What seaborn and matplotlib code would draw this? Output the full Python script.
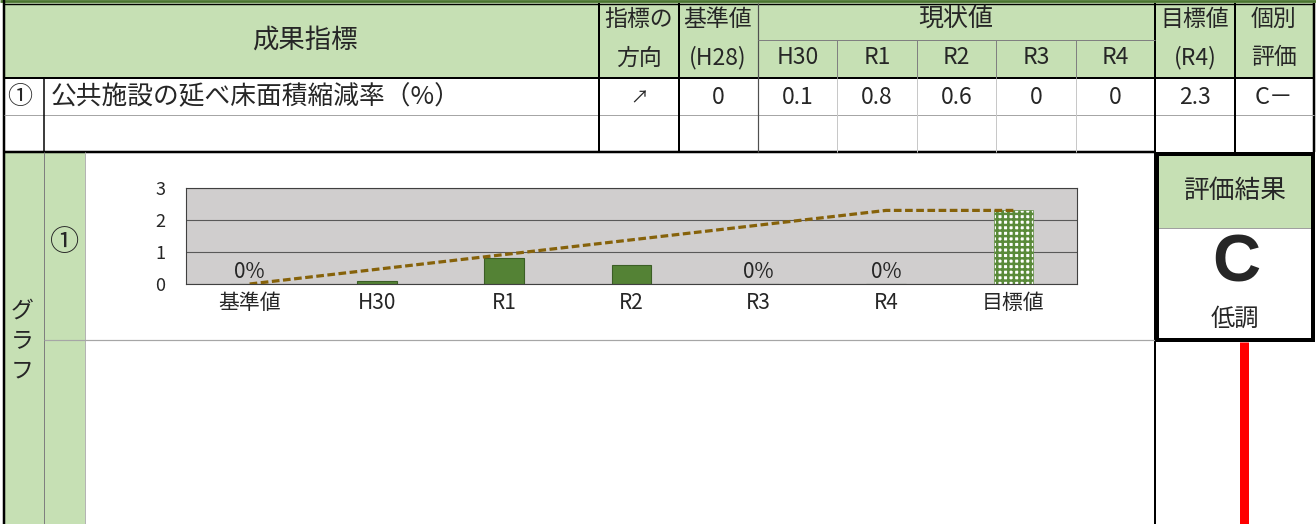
import numpy as np
import pandas as pd
import matplotlib
matplotlib.use("Agg")
import matplotlib.pyplot as plt
from matplotlib.patches import Rectangle
import seaborn as sns

# ---- data -------------------------------------------------------------
categories = ["基準値", "H30", "R1", "R2", "R3", "R4", "目標値"]
results = [0, 0.1, 0.8, 0.6, 0, 0, 2.3]          # base, yearly actuals, target
target_path = [0, 0.46, 0.92, 1.38, 1.84, 2.3, 2.3]  # planned trajectory
year_labels = ["H30", "R1", "R2", "R3", "R4"]
indicator_name = "公共施設の延べ床面積縮減率（%）"
direction = "↗"
grade_item = "C－"
grade_total = "C"
grade_text = "低調"

# ---- style ------------------------------------------------------------
sns.set_theme(style="white")
plt.rcParams["font.family"] = ["Noto Sans CJK JP", "DejaVu Sans"]
plt.rcParams["hatch.linewidth"] = 1.8

W, H = 1316, 524
GREEN = "#c6e0b4"
BLACK = "#000000"

fig = plt.figure(figsize=(W / 100, H / 100), dpi=100)
bg = fig.add_axes([0, 0, 1, 1])
bg.set_xlim(0, W)
bg.set_ylim(H, 0)
bg.axis("off")


def fill(x0, y0, x1, y1, color):
    bg.add_patch(Rectangle((x0, y0), x1 - x0, y1 - y0, facecolor=color,
                           edgecolor="none", zorder=0))


def hl(y, x0, x1, px, color=BLACK):
    bg.plot([x0, x1], [y, y], color=color, lw=px * 0.72,
            solid_capstyle="butt", zorder=2)


def vl(x, y0, y1, px, color=BLACK):
    bg.plot([x, x], [y0, y1], color=color, lw=px * 0.72,
            solid_capstyle="butt", zorder=2)


def txt(x, y, s, size=15, **kw):
    bg.text(x, y, s, fontsize=size, ha=kw.pop("ha", "center"),
            va="center", zorder=3, **kw)


# ---- cell fills -------------------------------------------------------
fill(4, 3, 1314, 78, GREEN)          # header band
fill(4, 152, 85, 524, GREEN)         # graph row labels
fill(1155, 152, 1314, 228, GREEN)    # evaluation header

# ---- table grid -------------------------------------------------------
hl(1.3, 0, W, 2.8, "#4a7530")
hl(3.8, 4, 1314, 1.4)
vl(4, 0, H, 2.5)
vl(1314, 3, 152, 2.5)
hl(78, 4, 1314, 2)
hl(115, 4, 1314, 1, "#a6a6a6")
hl(152, 4, 1155, 2.5)
for x in (599, 679, 1235):
    vl(x, 3, 152, 2)
vl(1155, 3, H, 2)
vl(758, 3, 152, 1.2, "#505050")
hl(40, 758, 1155, 1, "#808080")
col_edges = [758, 837, 917, 996, 1076, 1155]
for x in col_edges[1:-1]:
    vl(x, 40, 78, 1, "#808080")
    vl(x, 78, 152, 1, "#c8c8c8")
vl(44, 78, 152, 1.5)

# graph section lines
vl(44, 152, H, 1, "#7f7f7f")
vl(85, 152, H, 1, "#b4b4b4")
hl(340, 44, 1155, 1.2, "#a6a6a6")

# evaluation box
hl(228, 1157, 1313, 1, "#a0a0a0")
hl(154, 1155, 1315, 4)
hl(340, 1155, 1315, 4)
vl(1157, 152, 342, 4)
vl(1313, 152, 342, 4)
vl(1244, 342, H, 9, "#ff0000")

# ---- table text -------------------------------------------------------
txt(305, 40, "成果指標", 19)
txt(639, 19, "指標の", 16.5)
txt(639, 58, "方向", 16.5)
txt(718, 19, "基準値", 16.5)
txt(718, 58, "(H28)", 16.5)
txt(956, 19, "現状値", 18)
col_centers = [(a + b) / 2 for a, b in zip(col_edges[:-1], col_edges[1:])]
for xc, lab in zip(col_centers, year_labels):
    txt(xc, 58, lab, 16.5)
txt(1195, 19, "目標値", 16.5)
txt(1195, 58, "(R4)", 16.5)
txt(1274, 19, "個別", 16.5)
txt(1274, 58, "評価", 16.5)

txt(20, 97, "①", 18)
txt(51, 97, indicator_name, 18.5, ha="left")
txt(639, 98, direction, 13)
value_centers = [718] + col_centers + [1195]
for xc, v in zip(value_centers, results):
    txt(xc, 97, f"{v:g}", 16.5)
txt(1274, 97, grade_item, 17)

# graph row labels
for y, ch in zip((311, 341, 371), "グラフ"):
    txt(22, y, ch, 16.5)
txt(65, 243, "①", 21)

# evaluation result
txt(1235, 191, "評価結果", 18.5)
txt(1236, 264, grade_total, 48, fontweight="bold", family="Liberation Sans")
txt(1235, 319, grade_text, 17.5)

# ---- chart ------------------------------------------------------------
ax = fig.add_axes([186 / W, 1 - 284 / H, (1077 - 186) / W, (284 - 188) / H])
df = pd.DataFrame({"category": categories, "value": results})
sns.barplot(data=df, x="category", y="value", order=categories, ax=ax,
            width=0.31, color="#548235", edgecolor="#3b5e25", linewidth=0.8,
            saturation=1, zorder=2)
target_bar = ax.patches[len(categories) - 1]
target_bar.set_facecolor("#ffffff")
target_bar.set_edgecolor("#5a8a3a")
target_bar.set_hatch("+++")
target_bar.set_linewidth(0.5)

sns.lineplot(x=np.arange(len(categories)), y=target_path, ax=ax,
             color="#86620a", lw=2.3, linestyle=(0, (2.4, 1.1)),
             sort=False, estimator=None, zorder=4)

for i, v in enumerate(results):
    if v == 0:
        ax.annotate(f"{v:g}%", (i, v), xytext=(0, 0.5),
                    textcoords="offset points", ha="center", va="bottom",
                    fontsize=15, zorder=5)

ax.set_facecolor("#d0cece")
ax.set_xlim(-0.5, len(categories) - 0.5)
ax.set_ylim(0, 3)
ax.set_yticks([0, 1, 2, 3])
ax.yaxis.grid(True, color="#595959", lw=0.8)
ax.xaxis.grid(False)
ax.set_axisbelow(True)
ax.set_xlabel("")
ax.set_ylabel("")
for sp in ax.spines.values():
    sp.set_visible(True)
    sp.set_color("#404040")
    sp.set_linewidth(0.8)
ax.tick_params(axis="y", length=0, labelsize=13, pad=15)
ax.tick_params(axis="x", length=0, labelsize=15, pad=6)

fig.savefig("out.png", dpi=100)
